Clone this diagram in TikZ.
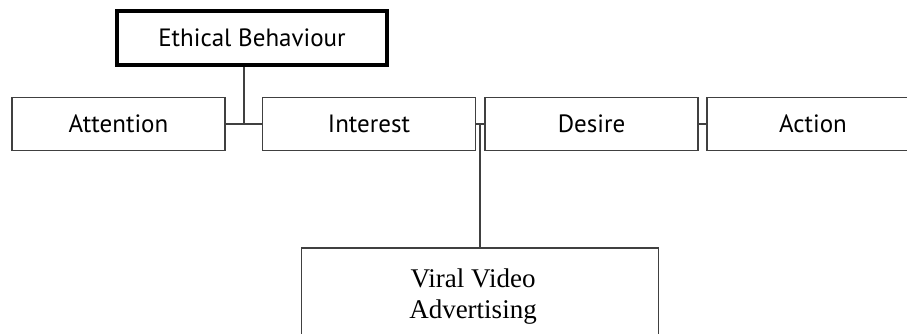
\documentclass[tikz,border=0pt]{standalone}
\usepackage{fontspec}
\setmainfont{Liberation Serif}
\newfontfamily\boxfont{PT Sans}
\begin{document}
\begin{tikzpicture}[x=1pt,y=-1pt,
  linecol/.style={draw=black!75, line width=1.4pt},
  stagebox/.style={linecol, fill=white, minimum width=213pt, minimum height=53pt, inner sep=0pt, font=\boxfont\fontsize{25}{30}\selectfont},
  topbox/.style={draw=black, line width=4.5pt, minimum width=270pt, minimum height=54pt, inner sep=0pt, font=\boxfont\fontsize{25}{30}\selectfont},
  mediabox/.style={linecol, minimum width=357pt, minimum height=100pt, inner sep=0pt},
  mediatext/.style={font=\fontsize{27}{31}\selectfont, align=center, inner sep=0pt},
  conn/.style={linecol}]
\useasboundingbox (0,0) rectangle (907,333);
\clip (0,0) rectangle (907,333);
\node[topbox] (eth) at (252,38) {Ethical Behaviour};
\node[stagebox] (att) at (118.5,124) {Attention};
\node[stagebox] (int) at (369,124) {Interest};
\node[stagebox] (des) at (591.5,124) {Desire};
\node[stagebox, minimum width=212pt] (act) at (813,124) {Action};
\node[mediabox] (vir) at (480,298) {};
\node[mediatext] (virtxt) at (473,297) {Viral Video\\Advertising};
\coordinate (j) at (244,124);
\draw[conn] (eth.south -| j) -- (j);
\draw[conn] (att.east) -- (int.west);
\draw[conn] (int.east) -- (des.west);
\draw[conn] (vir.north |- int.east) -- (vir.north);
\draw[conn] (des.east) -- (act.west);
\end{tikzpicture}
\end{document}
